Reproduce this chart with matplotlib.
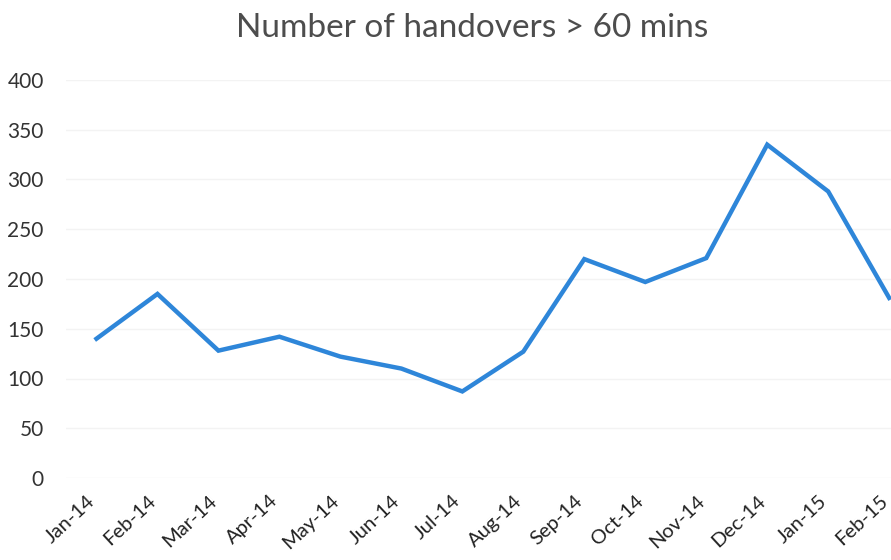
import matplotlib
matplotlib.use("Agg")
import matplotlib.pyplot as plt
import matplotlib.transforms as mtransforms

months = ["Jan-14", "Feb-14", "Mar-14", "Apr-14", "May-14", "Jun-14", "Jul-14",
          "Aug-14", "Sep-14", "Oct-14", "Nov-14", "Dec-14", "Jan-15", "Feb-15"]
handovers = [140, 185, 128, 142, 122, 110, 87, 127, 220, 197, 221, 335, 288, 181]
yticks = [0, 50, 100, 150, 200, 250, 300, 350, 400]

plt.rcParams["font.family"] = ["Lato", "DejaVu Sans"]

fig = plt.figure(figsize=(8.91, 5.6), dpi=100)
ax = fig.add_axes([66 / 891, 82 / 560, 1 - 66 / 891, 398 / 560])

x = list(range(len(months)))
ax.plot(x, handovers, color="#2e86d9", linewidth=3.2, solid_joinstyle="miter")

ax.set_xlim(-0.5, 13.03)
ax.set_ylim(0, 400)
ax.set_yticks(yticks)
ax.set_yticklabels([str(v) for v in yticks], fontsize=15, color="#333333")
ax.set_xticks(x)
ax.set_xticklabels([])
# month labels placed by hand so they can sit a touch left of each tick
trans = mtransforms.blended_transform_factory(ax.transData, ax.transAxes)
shift = mtransforms.ScaledTranslation(-10 / 100, -14 / 100, fig.dpi_scale_trans)
for xi, m in zip(x, months):
    ax.text(xi, 0, m, transform=trans + shift, rotation=43, ha="right", va="top",
            rotation_mode="anchor", fontsize=14.5, color="#222222", clip_on=False)
ax.tick_params(axis="both", length=0)
ax.tick_params(axis="y", pad=16)
ax.grid(axis="y", color="#f3f3f3", linewidth=1)
ax.set_axisbelow(True)
for s in ax.spines.values():
    s.set_visible(False)

fig.text(472 / 891, 1 - 28 / 560, "Number of handovers > 60 mins", ha="center",
         va="center", fontsize=24, color="#4d4d4d")

fig.savefig("out.png", dpi=100)
